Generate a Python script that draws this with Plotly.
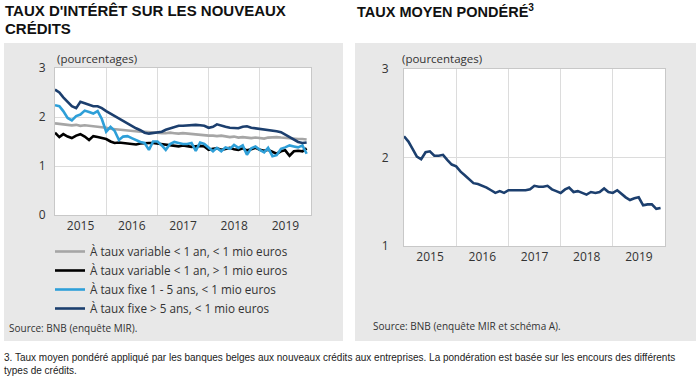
import pandas as pd
import plotly.graph_objects as go

# ---------------- data ----------------
months = pd.date_range("2015-01-01", periods=60, freq="MS")

var_lt1an_lt1mio = [1.87, 1.86, 1.85, 1.84, 1.83, 1.84, 1.82, 1.83, 1.82, 1.81, 1.80, 1.80,
                    1.78, 1.76, 1.75, 1.74, 1.73, 1.72, 1.72, 1.71, 1.70, 1.70, 1.69, 1.68,
                    1.68, 1.67, 1.67, 1.68, 1.67, 1.66, 1.67, 1.66, 1.65, 1.64, 1.63, 1.63,
                    1.62, 1.62, 1.61, 1.62, 1.60, 1.59, 1.60, 1.58, 1.59, 1.58, 1.57, 1.58,
                    1.57, 1.56, 1.58, 1.59, 1.59, 1.58, 1.57, 1.57, 1.56, 1.55, 1.55, 1.54]

var_lt1an_gt1mio = [1.68, 1.59, 1.65, 1.60, 1.57, 1.62, 1.65, 1.60, 1.53, 1.61, 1.59, 1.57,
                    1.55, 1.50, 1.47, 1.48, 1.47, 1.47, 1.45, 1.44, 1.46, 1.47, 1.47, 1.47,
                    1.46, 1.44, 1.43, 1.43, 1.41, 1.40, 1.42, 1.41, 1.39, 1.40, 1.41, 1.40,
                    1.33, 1.35, 1.36, 1.33, 1.35, 1.37, 1.34, 1.33, 1.36, 1.32, 1.34, 1.37,
                    1.33, 1.31, 1.33, 1.29, 1.25, 1.30, 1.32, 1.21, 1.30, 1.31, 1.30, 1.36]

fixe_1_5ans = [2.24, 2.22, 2.12, 1.98, 1.93, 2.02, 2.05, 2.13, 2.10, 2.07, 2.12, 1.96,
               1.70, 1.80, 1.72, 1.53, 1.60, 1.61, 1.57, 1.53, 1.49, 1.47, 1.33, 1.50,
               1.50, 1.42, 1.33, 1.45, 1.49, 1.47, 1.45, 1.45, 1.47, 1.31, 1.48, 1.45,
               1.37, 1.30, 1.37, 1.30, 1.38, 1.35, 1.43, 1.37, 1.42, 1.23, 1.36, 1.40,
               1.33, 1.28, 1.37, 1.20, 1.22, 1.35, 1.38, 1.42, 1.40, 1.38, 1.42, 1.25]

fixe_gt5ans = [2.56, 2.50, 2.40, 2.30, 2.22, 2.18, 2.31, 2.28, 2.25, 2.22, 2.22, 2.18,
               2.12, 2.07, 2.01, 1.96, 1.91, 1.86, 1.82, 1.77, 1.73, 1.68, 1.66, 1.67,
               1.69, 1.70, 1.74, 1.77, 1.80, 1.82, 1.82, 1.83, 1.84, 1.84, 1.83, 1.82,
               1.78, 1.80, 1.85, 1.82, 1.80, 1.78, 1.77, 1.77, 1.80, 1.81, 1.78, 1.77,
               1.75, 1.74, 1.73, 1.72, 1.71, 1.69, 1.64, 1.58, 1.53, 1.49, 1.47, 1.48]

taux_moyen = [2.24, 2.18, 2.10, 2.01, 1.98, 2.06, 2.07, 2.02, 2.02, 2.03, 1.97, 1.92,
              1.90, 1.84, 1.80, 1.75, 1.71, 1.70, 1.68, 1.66, 1.63, 1.60, 1.62, 1.60,
              1.63, 1.63, 1.63, 1.63, 1.63, 1.64, 1.68, 1.67, 1.67, 1.68, 1.64, 1.62,
              1.60, 1.64, 1.66, 1.61, 1.62, 1.60, 1.58, 1.61, 1.60, 1.61, 1.65, 1.61,
              1.60, 1.63, 1.59, 1.55, 1.52, 1.54, 1.55, 1.46, 1.47, 1.47, 1.42, 1.43]

legend_names = ["À taux variable < 1 an, < 1 mio euros",
                "À taux variable < 1 an, > 1 mio euros",
                "À taux fixe 1 - 5 ans, < 1 mio euros",
                "À taux fixe > 5 ans, < 1 mio euros"]
left_yticks = [0, 1, 2, 3]
right_yticks = [1, 2, 3]

# ---------------- figure ----------------
W, H = 700, 380
def px(x):
    return x / W
def py(y):
    return 1 - y / H

FONT = "Open Sans, Noto Sans, sans-serif"
TXT = "#333333"
colors = ["#a6a6a6", "#000000", "#2e9fd8", "#1c3f6e"]
series = [var_lt1an_lt1mio, var_lt1an_gt1mio, fixe_1_5ans, fixe_gt5ans]

fig = go.Figure()
for name, vals, col in zip(legend_names, series, colors):
    fig.add_trace(go.Scatter(x=months, y=vals, name=name, mode="lines",
                             line=dict(color=col, width=2.6),
                             xaxis="x", yaxis="y", showlegend=True))
fig.add_trace(go.Scatter(x=months, y=taux_moyen, name="Taux moyen pondéré", mode="lines",
                         line=dict(color="#1c3f6e", width=2.6),
                         xaxis="x2", yaxis="y2", showlegend=False))

xcommon = dict(type="date", range=["2015-01-01", "2020-01-01"], dtick="M12", tick0="2015-01-01",
               ticklabelmode="period", tickformat="%Y", showgrid=True, gridcolor="#dcdcdc",
               gridwidth=1, showline=True, linecolor="#c8c8c8", mirror=True, ticks="",
               tickfont=dict(family=FONT, size=12, color=TXT), zeroline=False, fixedrange=True,
               automargin=False)
ycommon = dict(showgrid=True, gridcolor="#dcdcdc", gridwidth=1, showline=True,
               linecolor="#c8c8c8", mirror=True, ticks="", zeroline=False,
               tickfont=dict(family=FONT, size=12, color=TXT), fixedrange=True,
               automargin=False)

fig.update_layout(
    template="none",
    width=W, height=H, autosize=False, margin=dict(l=0, r=0, t=0, b=0, pad=0, autoexpand=False),
    paper_bgcolor="white", plot_bgcolor="white",
    xaxis=dict(xcommon, domain=[px(55), px(311)], anchor="y"),
    yaxis=dict(ycommon, domain=[py(215), py(68)], range=[0, 3], tickvals=left_yticks,
               anchor="x", ticklabelstandoff=6),
    xaxis2=dict(xcommon, domain=[px(404), px(665)], anchor="y2"),
    yaxis2=dict(ycommon, domain=[py(246), py(69)], range=[1, 3], tickvals=right_yticks,
                anchor="x2", ticklabelstandoff=12),
    legend=dict(x=px(50), y=py(237), xanchor="left", yanchor="top",
                bgcolor="rgba(0,0,0,0)", borderwidth=0,
                font=dict(family=FONT, size=11.7, color=TXT),
                itemwidth=30, tracegroupgap=0),
    showlegend=True,
)

shapes = []
# gray panels
for x0, x1 in [(4, 343), (355, 696)]:
    shapes.append(dict(type="rect", xref="paper", yref="paper", x0=px(x0), x1=px(x1),
                       y0=py(341), y1=py(43), fillcolor="#e8e8e8", line=dict(width=0),
                       layer="below"))
# white plot areas
for (x0, x1, y0, y1) in [(55, 311, 215, 68), (404, 665, 246, 69)]:
    shapes.append(dict(type="rect", xref="paper", yref="paper", x0=px(x0), x1=px(x1),
                       y0=py(y0), y1=py(y1), fillcolor="white", line=dict(width=0),
                       layer="below"))
fig.update_layout(shapes=shapes)

ann = []
def text(x, y, s, size, bold=False, family=FONT, color=TXT, anchor="left"):
    ann.append(dict(x=px(x), y=py(y), xref="paper", yref="paper", text=(f"<b>{s}</b>" if bold else s),
                    showarrow=False, xanchor=anchor, yanchor="middle",
                    font=dict(family=family, size=size, color=color)))

TFONT = "Liberation Sans, Arial, sans-serif"
text(3, 11, "TAUX D'INTÉRÊT SUR LES NOUVEAUX", 15, bold=True, family=TFONT, color="#111111")
text(3, 28, "CRÉDITS", 15, bold=True, family=TFONT, color="#111111")
text(355, 11, "TAUX MOYEN PONDÉRÉ<sup>3</sup>", 14.5, bold=True, family=TFONT, color="#111111")
text(55, 58, "(pourcentages)", 11.5)
text(400, 58, "(pourcentages)", 11.5)
text(7, 328, "Source: BNB (enquête MIR).", 10)
text(371, 326, "Source: BNB (enquête MIR et schéma A).", 10)
text(2, 357, "3. Taux moyen pondéré appliqué par les banques belges aux nouveaux crédits aux entreprises. "
              "La pondération est basée sur les encours des différents", 10, family=TFONT, color="#222222")
text(2, 370, "types de crédits.", 10, family=TFONT, color="#222222")
fig.update_layout(annotations=ann)

fig.write_html("out.html", config={"displayModeBar": False, "staticPlot": True},
               post_script="document.body.style.margin='0';document.body.style.padding='0';")
